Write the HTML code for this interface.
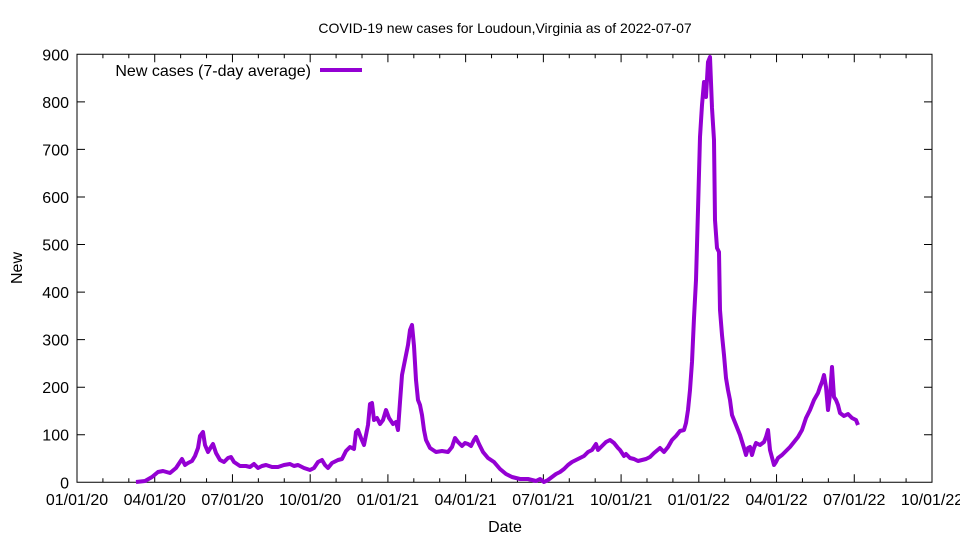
<!DOCTYPE html>
<html><head><meta charset="utf-8"><style>body{margin:0;background:#fff}svg{display:block}text{font-family:"Liberation Sans",sans-serif;fill:#000}</style></head><body>
<svg width="960" height="540" viewBox="0 0 960 540" xmlns="http://www.w3.org/2000/svg">
<text x="505" y="33" font-size="14" text-anchor="middle">COVID-19 new cases for Loudoun,Virginia as of 2022-07-07</text>
<g id="ax" stroke="#000" stroke-width="1" fill="none"></g>
<g font-size="16" text-anchor="end" id="yl"></g>
<g font-size="16" text-anchor="middle" id="xl"></g>
<text x="505" y="532" font-size="16" text-anchor="middle">Date</text>
<text transform="translate(22,268) rotate(-90)" font-size="16" text-anchor="middle">New</text>
<text x="311" y="76" font-size="16" text-anchor="end">New cases (7-day average)</text>
<line x1="320" y1="70" x2="362" y2="70" stroke="#9400d3" stroke-width="4"/>
<polyline fill="none" stroke="#9400d3" stroke-width="4" stroke-linejoin="round" points="136,482 145,481 152,477 158,472 163,471 170,473 176,468 180,462 182,459 185,465 188,463 192,461 195,456 198,448 200,436 203,432 205,445 208,452 211,447 213,444 216,453 220,460 224,462 228,458 231,457 234,462 240,466 246,466 250,467 254,464 258,468 262,466 266,465 272,467 278,467 284,465 290,464 294,466 298,465 304,468 310,470 314,468 318,462 322,460 325,465 328,468 332,463 338,460 342,459 346,451 350,447 354,449 356,432 358,430 361,438 364,445 368,425 370,404 372,403 374,420 377,418 380,424 383,420 386,410 389,418 393,424 396,422 398,430 400,402 402,375 404,365 406,355 408,345 410,330 412,325 414,346 416,380 418,400 420,405 422,415 424,430 426,440 430,448 436,452 442,451 448,452 452,447 455,438 458,442 462,446 465,443 468,444 471,446 474,440 476,437 479,444 483,452 488,458 494,462 500,469 506,474 512,477 520,479 528,479 536,481 540,479 544,482 548,480 552,477 556,474 560,472 564,469 568,465 572,462 576,460 580,458 584,456 588,452 592,450 596,444 598,450 602,446 606,442 610,440 614,443 618,448 620,450 624,456 626,454 630,458 634,459 638,461 642,460 646,459 650,457 654,453 660,448 664,452 668,447 672,440 676,436 680,431 684,430 686,423 688,410 690,390 692,362 694,318 696,280 698,210 700,137 702,105 704,82 706,97 708,62 710,57 712,108 714,140 715,220 717,248 719,252 720,310 722,335 724,355 726,378 728,390 730,400 732,415 734,420 736,425 740,435 744,448 746,455 748,448 750,447 752,455 754,448 756,443 760,445 764,442 766,437 768,430 770,450 774,465 776,462 778,458 782,455 786,451 790,447 794,442 798,437 802,430 806,418 810,410 814,400 818,393 820,387 822,382 824,375 826,387 828,410 830,395 832,367 834,397 836,400 838,405 840,413 844,416 848,414 852,418 856,420 858,425"/>
<script>
var L=77,R=932,T=54.3,B=482.3,ns="http://www.w3.org/2000/svg";
var ax=document.getElementById('ax'),d="M"+L+","+T+"H"+R+"V"+B+"H"+L+"Z";
for(var i=0;i<=9;i++){var y=B-i*100*(B-T)/900;d+="M"+L+","+y+"h8M"+R+","+y+"h-8";
var t=document.createElementNS(ns,'text');t.setAttribute('x',L-8);t.setAttribute('y',y+6);t.textContent=i*100;document.getElementById('yl').appendChild(t);}
var labs=["01/01/20","04/01/20","07/01/20","10/01/20","01/01/21","04/01/21","07/01/21","10/01/21","01/01/22","04/01/22","07/01/22","10/01/22"];
for(var m=0;m<=33;m++){var x=L+m*(R-L)/33,len=(m%3==0)?8:4;d+="M"+x+","+B+"v-"+len+"M"+x+","+T+"v"+len;
if(m%3==0){var t=document.createElementNS(ns,'text');t.setAttribute('x',x);t.setAttribute('y',505);t.textContent=labs[m/3];document.getElementById('xl').appendChild(t);}}
var p=document.createElementNS(ns,'path');p.setAttribute('d',d);ax.appendChild(p);
</script>
</svg>
</body></html>
